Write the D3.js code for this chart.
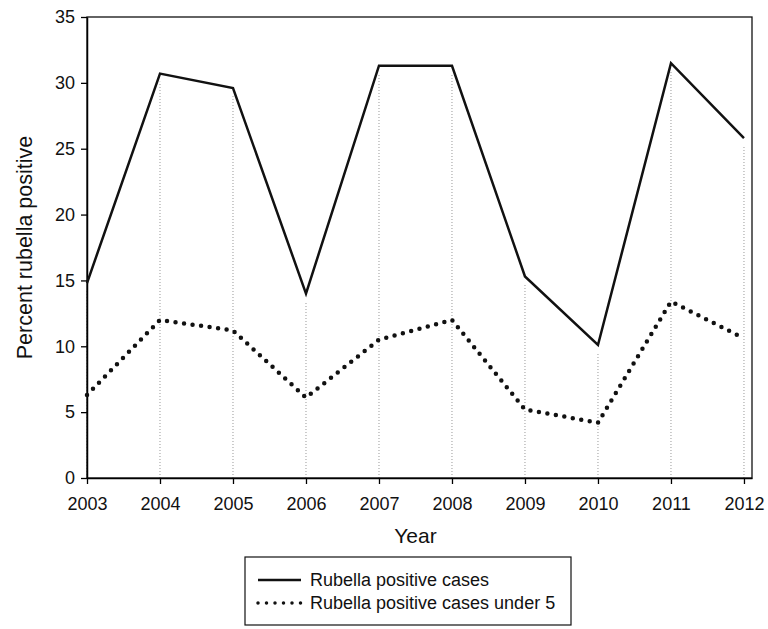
<!DOCTYPE html>
<html>
<head>
<meta charset="utf-8">
<script src="https://cdn.jsdelivr.net/npm/d3@7"></script>
<style>
  body { margin: 0; background: #fff; }
  text { font-family: Arial, "Liberation Sans", sans-serif; fill: #111; }
</style>
</head>
<body>
<div id="chart"></div>
<script>
// data
const years = [2003, 2004, 2005, 2006, 2007, 2008, 2009, 2010, 2011, 2012];
const allCases = [14.8, 30.7, 29.6, 14.0, 31.3, 31.3, 15.3, 10.1, 31.5, 25.8];
const under5 = [6.3, 12.0, 11.2, 6.1, 10.5, 12.0, 5.2, 4.2, 13.4, 10.6];
const yTicks = [0, 5, 10, 15, 20, 25, 30, 35];
const seriesNames = ['Rubella positive cases', 'Rubella positive cases under 5'];

const width = 768;
const height = 629;
const margin = { top: 17, right: 16, bottom: 151, left: 87 };
const w = width - margin.left - margin.right;
const h = height - margin.top - margin.bottom;

const svg = d3.select('#chart')
    .append('svg')
    .attr('width', width)
    .attr('height', height);

const g = svg.append('g')
    .attr('transform', `translate(${margin.left}, ${margin.top})`);

// x runs a little past 2012 so the frame sits right of the last tick
const x = d3.scaleLinear().domain([2003, 2012.11]).range([0, w]);
const y = d3.scaleLinear().domain([0, 35]).range([h, 0]);

// grey drop lines from the axis up to the solid line
g.selectAll('.drop')
    .data(years)
    .enter()
    .append('line')
    .attr('x1', d => x(d))
    .attr('x2', d => x(d))
    .attr('y1', h)
    .attr('y2', (d, i) => Math.min(h, y(allCases[i]) + 8))
    .attr('stroke', '#999')
    .attr('stroke-width', 1)
    .attr('stroke-dasharray', '1,2');

// frame
g.append('rect')
    .attr('width', w)
    .attr('height', h)
    .attr('fill', 'none')
    .attr('stroke', '#111')
    .attr('stroke-width', 1.3);

// axes
const xAxis = g.append('g')
    .attr('transform', `translate(0, ${h})`)
    .call(d3.axisBottom(x).tickValues(years).tickFormat(d3.format('d')).tickSize(6).tickSizeOuter(0));
xAxis.select('.domain').attr('stroke-width', 1.5);
xAxis.selectAll('line').attr('stroke-width', 1.3);
xAxis.selectAll('text').style('font-size', '18px').attr('y', 15).attr('dy', '0.95em');

const yAxis = g.append('g')
    .call(d3.axisLeft(y).tickValues(yTicks).tickSize(6).tickSizeOuter(0));
yAxis.select('.domain').attr('stroke-width', 1.5);
yAxis.selectAll('line').attr('stroke-width', 1.3);
yAxis.selectAll('text').style('font-size', '18px').attr('x', -12);

// series
const line = d3.line()
    .x((d, i) => x(years[i]))
    .y(d => y(d));

g.append('path')
    .datum(allCases)
    .attr('d', line)
    .attr('fill', 'none')
    .attr('stroke', '#111')
    .attr('stroke-width', 2.5);

g.append('path')
    .datum(under5)
    .attr('d', line)
    .attr('fill', 'none')
    .attr('stroke', '#111')
    .attr('stroke-width', 4.5)
    .attr('stroke-linecap', 'round')
    .attr('stroke-dasharray', '0,8.6');

// axis titles
svg.append('text')
    .attr('x', margin.left + x(2007.5))
    .attr('y', 543)
    .attr('text-anchor', 'middle')
    .style('font-size', '21px')
    .text('Year');

svg.append('text')
    .attr('transform', `translate(32, ${margin.top + h / 2}) rotate(-90)`)
    .attr('text-anchor', 'middle')
    .style('font-size', '21.5px')
    .text('Percent rubella positive');

// legend
const legend = svg.append('g').attr('transform', 'translate(245, 557)');
legend.append('rect')
    .attr('width', 326)
    .attr('height', 68)
    .attr('fill', '#fff')
    .attr('stroke', '#111')
    .attr('stroke-width', 1.2);

const rows = legend.selectAll('.row')
    .data(seriesNames)
    .enter()
    .append('g')
    .attr('transform', (d, i) => `translate(0, ${23 + i * 23})`);

rows.append('line')
    .attr('x1', 13)
    .attr('x2', 56)
    .attr('stroke', '#111')
    .attr('stroke-width', (d, i) => i === 0 ? 2.5 : 3.5)
    .attr('stroke-linecap', (d, i) => i === 0 ? 'butt' : 'round')
    .attr('stroke-dasharray', (d, i) => i === 0 ? null : '0,8.5');

rows.append('text')
    .attr('x', 65)
    .attr('dy', '0.35em')
    .style('font-size', '18px')
    .text(d => d);
</script>
</body>
</html>
